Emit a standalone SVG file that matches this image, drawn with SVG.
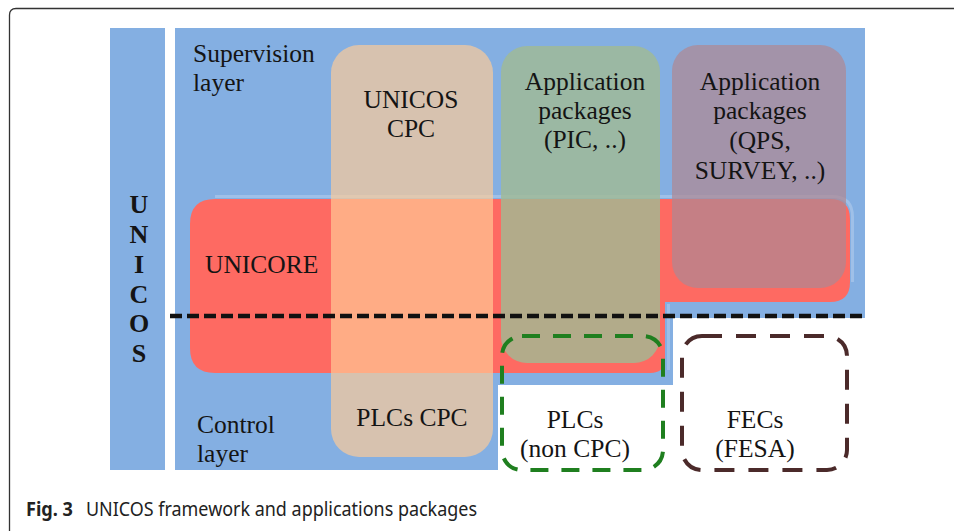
<svg xmlns="http://www.w3.org/2000/svg" width="954" height="531" viewBox="0 0 954 531">
<style>
.t{font-family:"Liberation Serif","Times New Roman",serif;font-size:25.5px;fill:#141414}
.c{text-anchor:middle}
.v{font-family:"Liberation Serif","Times New Roman",serif;font-size:26px;font-weight:bold;fill:#141414;text-anchor:middle}
.cap{font-family:"Noto Sans","Open Sans",sans-serif;font-size:19px;fill:#222}
</style>
<rect width="954" height="531" fill="#ffffff"/>
<path d="M9.5 531 V15 Q9.5 8.5 16 8.5 H954" fill="none" stroke="#333" stroke-width="1.3"/>

<g id="unicos-bar">
<rect x="110" y="28" width="55" height="442" fill="#84afe2"/>
<text class="v" x="139" y="213">U</text>
<text class="v" x="139" y="243">N</text>
<text class="v" x="139" y="273">I</text>
<text class="v" x="139" y="303">C</text>
<text class="v" x="139" y="332">O</text>
<text class="v" x="139" y="362">S</text>
</g>

<g id="layers">
<path d="M175 28 H865 V318 H673 V385 H498 V470 H175 Z" fill="#84afe2"/>
<text class="t" x="193" y="62">Supervision</text>
<text class="t" x="193" y="91">layer</text>
<text class="t" x="197" y="433">Control</text>
<text class="t" x="197" y="462">layer</text>
</g>

<g id="unicore">
<path d="M215 196.5 H832 Q852.5 196.5 852.5 217 V282" fill="none" stroke="#ffffff" stroke-opacity="0.22" stroke-width="3"/>
<path d="M668.5 304 V370" fill="none" stroke="#ffffff" stroke-opacity="0.2" stroke-width="3"/>
<path d="M215 199 H830 Q850 199 850 219 V282 Q850 302 830 302 H665 V358 Q665 373 650 373 H215 Q190 373 190 348 V224 Q190 199 215 199 Z" fill="#fe6a62"/>
<text class="t" x="205" y="273">UNICORE</text>
</g>

<g id="unicos-cpc">
<rect x="331" y="45" width="162" height="412" rx="28" fill="rgb(255,203,150)" fill-opacity="0.68"/>
<text class="t c" x="411" y="108">UNICOS</text>
<text class="t c" x="411" y="137">CPC</text>
<text class="t c" x="412" y="426">PLCs CPC</text>
</g>

<g id="app-pic">
<rect x="501" y="46" width="159" height="317" rx="26" fill="rgb(160,186,148)" fill-opacity="0.81"/>
<text class="t c" x="585" y="90">Application</text>
<text class="t c" x="585" y="119">packages</text>
<text class="t c" x="585" y="148">(PIC, ..)</text>
</g>

<g id="app-qps">
<rect x="672" y="45" width="174" height="243" rx="26" fill="rgb(175,136,147)" fill-opacity="0.72"/>
<text class="t c" x="760" y="90">Application</text>
<text class="t c" x="760" y="119">packages</text>
<text class="t c" x="760" y="149">(QPS,</text>
<text class="t c" x="760" y="179">SURVEY, ..)</text>
</g>

<g id="plcs-non-cpc">
<rect x="502" y="336" width="161" height="134" rx="20" fill="none" stroke="#1f7f1f" stroke-width="4" stroke-dasharray="18 13"/>
<text class="t c" x="575" y="428">PLCs</text>
<text class="t c" x="575" y="457">(non CPC)</text>
</g>

<g id="fecs">
<rect x="682" y="336" width="165" height="134" rx="20" fill="none" stroke="#4b2a2a" stroke-width="4" stroke-dasharray="20 14"/>
<text class="t c" x="755" y="428">FECs</text>
<text class="t c" x="755" y="457">(FESA)</text>
</g>

<g id="connectors">
<line x1="170" y1="316" x2="865" y2="316" stroke="#111" stroke-width="4.5" stroke-dasharray="12 5"/>
</g>

<g id="caption">
<text class="cap" x="26" y="516" font-weight="bold" textLength="47" lengthAdjust="spacingAndGlyphs">Fig. 3</text>
<text class="cap" x="86" y="516" textLength="391" lengthAdjust="spacingAndGlyphs">UNICOS framework and applications packages</text>
</g>
</svg>
